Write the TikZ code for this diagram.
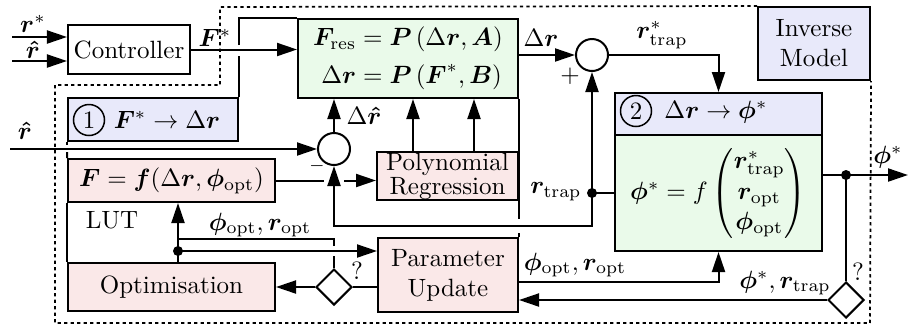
\documentclass[tikz,border=0pt]{standalone}
\usepackage{amsmath,bm}
\usetikzlibrary{arrows.meta,shapes.geometric,calc}
\definecolor{lav}{RGB}{232,233,250}
\definecolor{mint}{RGB}{234,250,234}
\definecolor{rose}{RGB}{250,232,232}
\begin{document}
\begin{tikzpicture}[x=0.4pt,y=-0.4pt,line width=0.8pt,
  box/.style={draw,inner sep=0pt,align=center},
  arr/.style={-{Triangle[length=8pt,width=5.2pt]}},
  lbl/.style={inner sep=0pt},
  sumc/.style={circle,draw,fill=white,minimum size=12.8pt,inner sep=0pt},
  dec/.style={diamond,draw,fill=white,minimum width=14.4pt,minimum height=14.4pt,inner sep=0pt},
  numc/.style={circle,draw,minimum size=12.4pt,inner sep=0pt,line width=0.6pt},
  dotframe/.style={line width=0.7pt,dash pattern=on 1.3pt off 1.3pt}]
\useasboundingbox (0,0) rectangle (910,328);

% boxes
\node[box,minimum width=48.8pt,minimum height=19.6pt] (ctrl) at (129,49.5) {Controller};
\node[box,fill=lav,minimum width=44.8pt,minimum height=29.2pt] (inv) at (814,43.5) {Inverse\\Model};
\node[box,fill=mint,minimum width=88pt,minimum height=31.6pt] (green) at (408,58.5)
  {$\begin{aligned}\bm{F}_{\mathrm{res}} &= \bm{P}\left(\Delta\bm{r},\bm{A}\right)\\ \Delta\bm{r} &= \bm{P}\left(\bm{F}^{*},\bm{B}\right)\end{aligned}$};
\node[box,fill=lav,minimum width=68pt,minimum height=17.2pt] (onebox) at (153,119.5) {};
\node[numc] (n1) at (89,120) {1};
\node[lbl] (t1) at (167,120) {$\bm{F}^{*}\rightarrow\Delta\bm{r}$};
\node[box,fill=rose,minimum width=82.8pt,minimum height=17.2pt] (fbox) at (171.5,180.5)
  {$\bm{F}=\bm{f}(\Delta\bm{r},\bm{\phi}_{\mathrm{opt}})$};
\node[box,fill=rose,minimum width=56.4pt,minimum height=19.2pt] (poly) at (447.5,176) {Polynomial\\[-2.4pt]Regression};
\node[box,fill=rose,minimum width=82.8pt,minimum height=19.2pt] (opt) at (171.5,287) {Optimisation};
\node[box,fill=rose,minimum width=56pt,minimum height=29.6pt] (param) at (448,275) {Parameter\\Update};
\node[box,fill=lav,minimum width=82.8pt,minimum height=16.8pt] (b2h) at (718.5,114) {};
\node[numc] (n2) at (636,111) {2};
\node[lbl] (t2) at (716,112) {$\Delta\bm{r}\rightarrow\bm{\phi}^{*}$};
\node[box,fill=mint,minimum width=82.8pt,minimum height=46.4pt] (b2b) at (718.5,193)
  {$\bm{\phi}^{*}=f\begin{pmatrix}\bm{r}^{*}_{\mathrm{trap}}\\ \bm{r}_{\mathrm{opt}}\\ \bm{\phi}_{\mathrm{opt}}\end{pmatrix}$};
\node[sumc] (s1) at (334,149) {};
\node[sumc] (s2) at (592,55) {};
\node[dec] (d1) at (334,287) {};
\node[dec] (d2) at (846,300) {};

% dotted frame
\draw[dotframe] (inv.north west) -- (220,7) -- (220,85) -- (55,85) -- (55,323) -- (870,323) -- (inv.south east);

% frame lines of block 1
\draw (onebox.north east) -- (onebox.north east |- 0,56);
\draw (onebox.north east |- 0,45) -- (onebox.north east |- green.north) -- (green.north west);
\draw (green.south east) -- (green.south east |- 0,219);
\draw (param.north east |- 0,233) -- (param.north east);
\draw (onebox.south west) -- (onebox.south west |- 0,145);
\draw (onebox.south west |- 0,152) -- (fbox.north west);
\draw (fbox.south west) -- (opt.north west);

% inputs
\coordinate (rin) at (12,37);
\coordinate (rhin) at (12,61);
\draw[arr] (rin) -- (rin -| ctrl.west);
\draw[arr] (rhin) -- (rhin -| ctrl.west);
\draw[arr] (ctrl.east) -- (ctrl.east -| green.west);

% r hat to s1
\coordinate (rh) at (10,149);
\draw[arr] (rh) -- (s1.west);
\draw[arr] (s1.north) -- (s1.north |- green.south);
\path (poly.north) ++(-34.5,0) coordinate (pa) ++(61,0) coordinate (pb);
\draw[arr] (pa) -- (pa |- green.south);
\draw[arr] (pb) -- (pb |- green.south);

% F box to poly
\coordinate (cx) at (s1.south |- fbox.east);
\draw (fbox.east) -- ([xshift=-4pt]cx);
\draw[arr] ([xshift=4pt]cx) -- (cx -| poly.west);

% delta r to s2 and on
\draw[arr] (s2.west -| green.east) -- (s2.west);
\draw[arr] (s2.east) -| (b2h.north);

% r_trap
\coordinate (rt) at (s2.south |- b2b.west);
\draw (b2b.west) -- (rt);
\draw[arr] (rt) -- (s2.south);
\draw[arr] (rt) -- ++(0,33) -| (s1.south);
\fill (rt) circle (2pt);

% output
\coordinate (od) at (846,175);
\coordinate (out) at (908,175);
\draw (od -| b2b.east) -- (od);
\draw[arr] (od) -- (out);
\draw (od) -- (d2.north);
\fill (od) circle (2pt);
\draw[arr] (d2.west) -- (d2.west -| param.east);
\draw[arr] (param.east |- 0,282) -| (b2b.south);

% bottom left
\coordinate (jd) at (178,251);
\coordinate (jt) at (178,239);
\draw[arr] (jd |- opt.north) -- (jd |- fbox.south);
\draw[arr] (jd) -- (jd -| param.west);
\fill (jd) circle (2pt);
\draw (d1.north) -- (d1.north |- 0,256);
\draw (d1.north |- 0,246) -- (d1.north |- jt) -- (jt);
\draw (d1.east -| param.west) -- (d1.east);
\draw[arr] (d1.west) -- (d1.west -| opt.east);

% labels
\node[lbl] (lrs) at (33,24) {$\bm{r}^{*}$};
\node[lbl] (lrh) at (33,50) {$\bm{\hat{r}}$};
\node[lbl] (lfs) at (215,38) {$\bm{F}^{*}$};
\node[lbl] (lrh2) at (25,131) {$\bm{\hat{r}}$};
\node[lbl] (ldrh) at (364,116) {$\Delta\bm{\hat{r}}$};
\node[lbl,font=\scriptsize] (lmin) at (317,166) {$-$};
\node[lbl] (lplus) at (570,76) {$+$};
\node[lbl] (ldr) at (541,38) {$\Delta\bm{r}$};
\node[lbl] (lrst) at (662,35) {$\bm{r}^{*}_{\mathrm{trap}}$};
\node[lbl] (lrt) at (556,192) {$\bm{r}_{\mathrm{trap}}$};
\node[lbl] (lphis) at (888,157) {$\bm{\phi}^{*}$};
\node[lbl] (lq2) at (858,272) {?};
\node[lbl] (lphrt) at (785,283) {$\bm{\phi}^{*},\bm{r}_{\mathrm{trap}}$};
\node[lbl] (lopt2) at (575,265) {$\bm{\phi}_{\mathrm{opt}},\bm{r}_{\mathrm{opt}}$};
\node[lbl] (lq1) at (357,271) {?};
\node[lbl] (lopt1) at (260,225) {$\bm{\phi}_{\mathrm{opt}},\bm{r}_{\mathrm{opt}}$};
\node[lbl] (llut) at (112,220) {LUT};
\end{tikzpicture}
\end{document}
